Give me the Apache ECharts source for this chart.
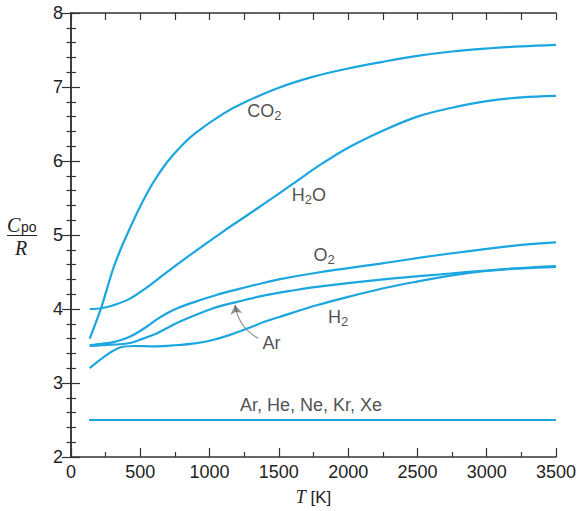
<!DOCTYPE html>
<html>
<head>
<meta charset="utf-8">
<script src="https://cdn.jsdelivr.net/npm/echarts@6/dist/echarts.min.js"></script>
<style>html,body{margin:0;padding:0;background:#fff}#c{width:580px;height:511px}</style>
</head>
<body>
<div id="c"></div>
<script>
// ---- data (T in K, Cpo/R) ----
const co2 = [[135,3.60],[220,4.03],[300,4.52],[350,4.77],[420,5.07],[500,5.39],[600,5.73],[700,6.00],[800,6.21],[900,6.38],[1100,6.64],[1250,6.79],[1500,6.99],[1750,7.14],[2000,7.25],[2250,7.34],[2500,7.42],[2750,7.48],[3000,7.52],[3250,7.55],[3500,7.57]];
const h2o = [[135,4.00],[220,4.01],[306,4.05],[426,4.14],[546,4.29],[666,4.46],[787,4.63],[941,4.84],[1100,5.05],[1250,5.24],[1400,5.43],[1600,5.69],[1800,5.95],[2000,6.18],[2250,6.41],[2500,6.60],[2750,6.72],[3000,6.81],[3250,6.86],[3500,6.88]];
const o2 = [[135,3.51],[220,3.53],[300,3.55],[378,3.59],[460,3.66],[546,3.76],[620,3.86],[700,3.95],[780,4.02],[900,4.10],[1050,4.19],[1200,4.265],[1350,4.335],[1500,4.40],[1773,4.49],[2255,4.62],[2736,4.75],[3217,4.86],[3500,4.90]];
const n2 = [[135,3.50],[220,3.51],[320,3.52],[426,3.54],[520,3.60],[618,3.67],[787,3.83],[1027,4.01],[1184,4.09],[1364,4.17],[1600,4.25],[1773,4.30],[2255,4.40],[2736,4.48],[3000,4.52],[3250,4.55],[3500,4.57]];
const h2 = [[135,3.20],[258,3.38],[354,3.48],[460,3.50],[600,3.495],[750,3.51],[907,3.54],[1030,3.585],[1147,3.65],[1292,3.75],[1400,3.83],[1533,3.91],[1773,4.05],[2014,4.17],[2255,4.28],[2496,4.37],[2736,4.45],[2977,4.51],[3217,4.55],[3500,4.58]];
const monatomic = [[130,2.5],[3500,2.5]];
const xTicks = {min:0, max:3500, step:500};
const yTicks = {min:2, max:8, step:1};
// label anchors [T, Cpo/R] and texts
const curveLabels = [
  {pos:[1396,6.676], text:'CO{s|2}'},
  {pos:[1717,5.534], text:'H{s|2}O'},
  {pos:[1826,4.723], text:'O{s|2}'},
  {pos:[1927,3.888], text:'H{s|2}'},
  {pos:[1447,3.547], text:'Ar'},
  {pos:[1732,2.699], text:'Ar, He, Ne, Kr, Xe'}
];
const arrowCoords = [[1352,3.604],[1184,4.054]];

const LINE = '#1ba6e0';
const INK = '#222';
const SANS = '"Liberation Sans", Arial, sans-serif';
const SERIF = '"Liberation Serif", "Times New Roman", serif';

const chart = echarts.init(document.getElementById('c'), null, {renderer:'svg'});

function curve(data){
  return {type:'line', data:data, showSymbol:false, symbol:'none', smooth:0.35,
    lineStyle:{color:LINE, width:2.2}, silent:true, animation:false};
}
const axisLineStyle = {color:'#333', width:1.5};
const plain = v => String(v);

chart.setOption({
  animation:false,
  grid:{left:71, right:24, top:13, bottom:54, outerBoundsMode:'none'},
  xAxis:[
    {type:'value', min:xTicks.min, max:xTicks.max, interval:xTicks.step, position:'bottom',
     axisLine:{show:true, lineStyle:axisLineStyle},
     axisTick:{show:true, inside:true, length:9, lineStyle:{color:'#333', width:1.2}},
     minorTick:{show:true, splitNumber:2, length:5, lineStyle:{color:'#333', width:1.2}},
     splitLine:{show:false},
     axisLabel:{color:INK, fontSize:18, fontFamily:SANS, margin:6, formatter:plain},
     name:'{i|T} [K]', nameLocation:'middle', nameGap:31,
     nameTextStyle:{color:INK, fontSize:17, fontFamily:SANS,
       rich:{i:{fontFamily:SERIF, fontStyle:'italic', fontSize:18, color:INK}}}},
    {type:'value', min:xTicks.min, max:xTicks.max, interval:xTicks.step, position:'top',
     axisLine:{show:true, lineStyle:axisLineStyle},
     axisTick:{show:true, inside:true, length:7, lineStyle:{color:'#333', width:1.2}},
     minorTick:{show:true, splitNumber:2, length:7, lineStyle:{color:'#333', width:1.2}},
     splitLine:{show:false}, axisLabel:{show:false}}
  ],
  yAxis:[
    {type:'value', min:yTicks.min, max:yTicks.max, interval:yTicks.step, position:'left',
     axisLine:{show:true, lineStyle:axisLineStyle},
     axisTick:{show:true, inside:true, length:9, lineStyle:{color:'#333', width:1.2}},
     minorTick:{show:true, splitNumber:5, length:5, lineStyle:{color:'#333', width:1.2}},
     splitLine:{show:false},
     axisLabel:{color:INK, fontSize:18, fontFamily:SANS, margin:8, formatter:plain}},
    {type:'value', min:yTicks.min, max:yTicks.max, interval:yTicks.step, position:'right',
     axisLine:{show:true, lineStyle:axisLineStyle},
     axisTick:{show:true, inside:true, length:9, lineStyle:{color:'#333', width:1.2}},
     minorTick:{show:true, splitNumber:5, length:4.5, lineStyle:{color:'#333', width:1.2}},
     splitLine:{show:false}, axisLabel:{show:false}}
  ],
  graphic:[
    {type:'text', left:7, top:215, style:{text:'C', font:'italic 20px ' + SERIF, fill:INK}},
    {type:'text', left:21, top:220, style:{text:'po', font:'14px ' + SANS, fill:INK}},
    {type:'line', shape:{x1:7, y1:235.5, x2:37, y2:235.5}, style:{stroke:INK, lineWidth:1}},
    {type:'text', left:15, top:238, style:{text:'R', font:'italic 20px ' + SERIF, fill:INK}}
  ],
  series:[
    curve(co2), curve(h2o), curve(o2), curve(n2), curve(h2), curve(monatomic),
    {type:'scatter', symbolSize:0, silent:true,
     data: curveLabels.map(d => ({value:d.pos, label:{formatter:d.text}})),
     label:{show:true, position:'inside', color:INK, fontSize:18, fontFamily:SANS,
       rich:{s:{fontSize:13, fontFamily:SANS, color:INK, padding:[9,0,0,0]}}}},
    {type:'lines', coordinateSystem:'cartesian2d', silent:true,
     symbol:['none','arrow'], symbolSize:[0,9],
     lineStyle:{color:INK, width:1.2, curveness:0.25},
     data:[{coords:arrowCoords}]}
  ]
});
</script>
</body>
</html>
